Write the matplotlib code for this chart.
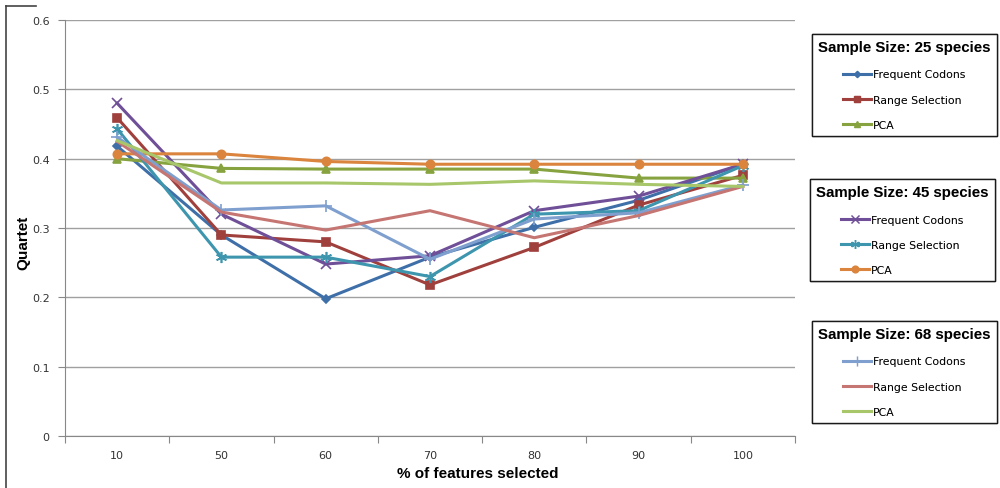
import matplotlib
matplotlib.use("Agg")
import matplotlib.pyplot as plt
from matplotlib.lines import Line2D

# x categories (% of features selected)
categories = ["10", "50", "60", "70", "80", "90", "100"]

# sample size 25 species
fc_25 = [0.418, 0.290, 0.198, 0.258, 0.301, 0.340, 0.392]
rs_25 = [0.459, 0.290, 0.280, 0.218, 0.272, 0.333, 0.376]
pca_25 = [0.400, 0.386, 0.385, 0.385, 0.385, 0.372, 0.372]

# sample size 45 species
fc_45 = [0.480, 0.320, 0.248, 0.260, 0.325, 0.346, 0.392]
rs_45 = [0.443, 0.258, 0.258, 0.230, 0.320, 0.325, 0.390]
pca_45 = [0.407, 0.407, 0.396, 0.392, 0.392, 0.392, 0.392]

# sample size 68 species
fc_68 = [0.431, 0.326, 0.332, 0.255, 0.313, 0.322, 0.362]
rs_68 = [0.425, 0.323, 0.297, 0.325, 0.286, 0.318, 0.360]
pca_68 = [0.426, 0.365, 0.365, 0.363, 0.368, 0.363, 0.360]

x = [i + 0.5 for i in range(len(categories))]

fig = plt.figure(figsize=(10, 4.89), dpi=100)
ax = fig.add_axes([0.065, 0.1063, 0.730, 0.8507])

series = [
    (fc_25, "#3F6FA8", "D", 4, "Frequent Codons"),
    (rs_25, "#A0403D", "s", 6, "Range Selection"),
    (pca_25, "#86A33F", "^", 6, "PCA"),
    (fc_45, "#6F4F97", "x", 7, "Frequent Codons"),
    (rs_45, "#3D96AE", (6, 2, 0), 8, "Range Selection"),
    (pca_45, "#DB843D", "o", 6, "PCA"),
    (fc_68, "#7FA0CF", "+", 9, "Frequent Codons"),
    (rs_68, "#C57572", "None", 0, "Range Selection"),
    (pca_68, "#A8C66A", "None", 0, "PCA"),
]

handles = []
for vals, col, mk, ms, lab in series:
    ax.plot(x, vals, color=col, lw=2.2, marker=mk, ms=ms,
            markeredgecolor=col, markerfacecolor=col, mew=1.2, zorder=3)
    handles.append(Line2D([], [], color=col, lw=2.2, marker=mk, ms=ms * 0.8,
                          markeredgecolor=col, markerfacecolor=col, mew=1.0, label=lab))

ax.set_xlim(0, 7)
ax.set_ylim(0, 0.6)
ax.set_yticks([0, 0.1, 0.2, 0.3, 0.4, 0.5, 0.6])
ax.set_yticklabels(["0", "0.1", "0.2", "0.3", "0.4", "0.5", "0.6"])
ax.set_xticks(range(8))
ax.set_xticklabels([])
ax.set_xticks(x, minor=True)
ax.set_xticklabels(categories, minor=True)
ax.tick_params(axis="x", which="minor", length=0, pad=10, labelsize=8, colors="#333333")
ax.tick_params(axis="x", which="major", length=5, color="#888888", direction="out")
ax.tick_params(axis="y", length=5, color="#888888", direction="out", labelsize=8,
               labelcolor="#333333", pad=6)
ax.grid(axis="y", color="#A0A0A0", lw=1)
ax.set_axisbelow(True)
for s in ["top", "right"]:
    ax.spines[s].set_visible(False)
ax.spines["left"].set_color("#888888")
ax.spines["bottom"].set_color("#888888")

fig.text(0.478, 0.03, "% of features selected", ha="center", va="center",
         fontsize=11, fontweight="bold", family="Liberation Sans")
fig.text(0.023, 0.503, "Quartet", ha="center", va="center", rotation=90,
         fontsize=11, fontweight="bold", family="Liberation Sans")

anchors = [(0.997, 0.929), (0.995, 0.632), (0.997, 0.342)]
titles = ["Sample Size: 25 species", "Sample Size: 45 species", "Sample Size: 68 species"]
for i in range(3):
    leg = fig.legend(handles=handles[i * 3:i * 3 + 3], loc="upper right",
                     bbox_to_anchor=anchors[i], bbox_transform=fig.transFigure,
                     title=titles[i], fontsize=7.8, frameon=True, fancybox=False,
                     edgecolor="black", handlelength=2.6, handletextpad=0.2,
                     labelspacing=1.4, borderpad=0.6, borderaxespad=0,
                     alignment="center")
    leg.get_frame().set_linewidth(1.0)
    leg.get_title().set_fontweight("bold")
    leg.get_title().set_fontsize(10.8)
    leg.get_title().set_family("Liberation Sans")
    fig.add_artist(leg)

# chart area border on the left
fig.add_artist(Line2D([0.006, 0.006], [0.0, 0.986], color="#444444", lw=1.2,
                      transform=fig.transFigure))
fig.add_artist(Line2D([0.006, 0.036], [0.986, 0.986], color="#444444", lw=1.2,
                      transform=fig.transFigure))

fig.savefig("out.png", dpi=100)
